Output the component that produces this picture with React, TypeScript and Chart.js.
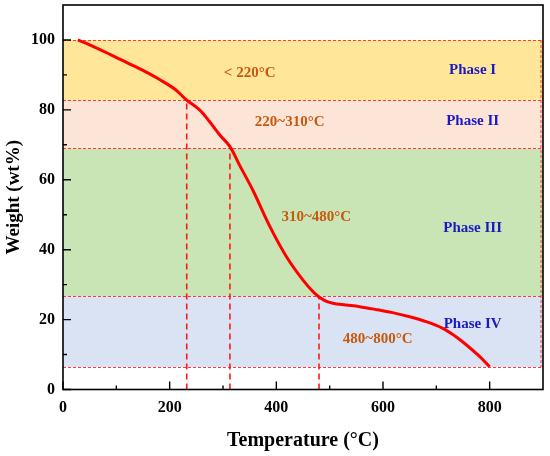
import React, { useEffect, useRef } from "react";
import { Chart, registerables } from "chart.js";

Chart.register(...registerables);

// TGA curve
const temperature = [28, 50, 88, 119, 150, 182, 210, 232, 256, 275, 294, 313, 331, 356, 388, 419, 450, 472, 490, 506, 530, 556, 590, 618, 650, 681, 712, 735, 756, 780, 800];
const weight = [100, 98.6, 95.9, 93.6, 91.3, 88.6, 85.9, 82.8, 80, 76.6, 72.8, 69.5, 64.2, 57, 46.6, 38, 31.3, 27.5, 25.5, 24.7, 24.2, 23.7, 22.8, 22.0, 20.8, 19.4, 17.5, 15.3, 12.8, 9.6, 6.5];

// phase bands (wt% limits, top to bottom)
const bandTop = [100, 82.8, 69, 26.7];
const bandBottom = [82.8, 69, 26.7, 6.4];
const bandColors = ["#FFE699", "#FCE4D6", "#C9E4B5", "#DAE3F3"];

// vertical markers: temperature and the weight where they stop
const markerTemp = [232, 313, 480];
const markerWeight = [82.8, 69, 26.7];

const rangeLabels = ["< 220°C", "220~310°C", "310~480°C", "480~800°C"];
const rangeAt = [[350, 90.6], [425, 76.5], [475, 49.4], [590, 14.5]];
const phaseLabels = ["Phase I", "Phase II", "Phase III", "Phase IV"];
const phaseAt = [[768, 91.4], [768, 76.9], [768, 46.2], [768, 18.7]];

const xTicks = [0, 200, 400, 600, 800];
const xMinor = [100, 300, 500, 700];
const yTicks = [0, 20, 40, 60, 80, 100];
const yMinor = [10, 30, 50, 70, 90];

const SERIF = "'Liberation Serif', 'Times New Roman', serif";

const decor = {
  id: "decor",
  beforeDatasetsDraw(chart: any) {
    const { ctx, chartArea: a, scales } = chart;
    const x = scales.x, y = scales.y;
    ctx.save();
    bandTop.forEach((t, i) => {
      const y0 = y.getPixelForValue(t);
      const y1 = y.getPixelForValue(bandBottom[i]);
      ctx.fillStyle = bandColors[i];
      ctx.fillRect(a.left, y0, a.right - a.left, y1 - y0);
    });
    // thin dashed band edges
    ctx.strokeStyle = "rgba(255,40,40,0.9)";
    ctx.lineWidth = 1;
    ctx.setLineDash([3, 2]);
    const edges = [...bandTop, bandBottom[bandBottom.length - 1]];
    edges.forEach((v) => {
      const py = Math.round(y.getPixelForValue(v)) + 0.5;
      ctx.beginPath();
      ctx.moveTo(a.left, py);
      ctx.lineTo(a.right, py);
      ctx.stroke();
    });
    ctx.beginPath();
    ctx.moveTo(a.right - 2, y.getPixelForValue(100));
    ctx.lineTo(a.right - 2, y.getPixelForValue(6.4));
    ctx.stroke();
    // vertical markers
    ctx.strokeStyle = "#FF1A1A";
    ctx.lineWidth = 1.6;
    ctx.setLineDash([6, 4]);
    markerTemp.forEach((t, i) => {
      const px = x.getPixelForValue(t);
      ctx.beginPath();
      ctx.moveTo(px, a.bottom);
      ctx.lineTo(px, y.getPixelForValue(markerWeight[i]));
      ctx.stroke();
    });
    ctx.setLineDash([]);
    // labels
    ctx.textAlign = "center";
    ctx.textBaseline = "middle";
    ctx.font = `bold 15px ${SERIF}`;
    ctx.fillStyle = "#C55A11";
    rangeLabels.forEach((s, i) => {
      ctx.fillText(s, x.getPixelForValue(rangeAt[i][0]), y.getPixelForValue(rangeAt[i][1]));
    });
    ctx.fillStyle = "#1A1AC4";
    phaseLabels.forEach((s, i) => {
      ctx.fillText(s, x.getPixelForValue(phaseAt[i][0]), y.getPixelForValue(phaseAt[i][1]));
    });
    ctx.restore();
  },
  afterDatasetsDraw(chart: any) {
    const { ctx, chartArea: a, scales } = chart;
    const x = scales.x, y = scales.y;
    ctx.save();
    ctx.strokeStyle = "#000";
    ctx.lineWidth = 1.6;
    ctx.strokeRect(a.left, a.top, a.right - a.left, a.bottom - a.top);
    ctx.lineWidth = 1.4;
    ctx.beginPath();
    xTicks.forEach((v) => {
      const px = x.getPixelForValue(v);
      ctx.moveTo(px, a.bottom);
      ctx.lineTo(px, a.bottom - 8);
    });
    xMinor.forEach((v) => {
      const px = x.getPixelForValue(v);
      ctx.moveTo(px, a.bottom);
      ctx.lineTo(px, a.bottom - 4);
    });
    yTicks.forEach((v) => {
      const py = y.getPixelForValue(v);
      ctx.moveTo(a.left, py);
      ctx.lineTo(a.left + 8, py);
    });
    yMinor.forEach((v) => {
      const py = y.getPixelForValue(v);
      ctx.moveTo(a.left, py);
      ctx.lineTo(a.left + 4, py);
    });
    ctx.stroke();
    ctx.restore();
  },
};

export default function App() {
  const canvasRef = useRef<HTMLCanvasElement>(null);

  useEffect(() => {
    document.body.style.margin = "0";
    if (!canvasRef.current) return;
    const chart = new Chart(canvasRef.current, {
      type: "line",
      data: {
        datasets: [
          {
            data: temperature.map((t, i) => ({ x: t, y: weight[i] })),
            borderColor: "#FF0000",
            borderWidth: 3,
            pointRadius: 0,
            tension: 0.35,
            fill: false,
          },
        ],
      },
      options: {
        animation: false,
        responsive: false,
        maintainAspectRatio: false,
        layout: { padding: { top: 5, right: 7, left: 0, bottom: 0 } },
        plugins: { legend: { display: false }, tooltip: { enabled: false } },
        scales: {
          x: {
            type: "linear",
            min: 0,
            max: 900,
            afterBuildTicks: (s: any) => {
              s.ticks = xTicks.map((v) => ({ value: v }));
            },
            afterFit: (s: any) => {
              s.height = 66.5;
              s.paddingLeft = 0;
              s.paddingRight = 0;
            },
            grid: { display: false, drawTicks: false },
            border: { display: false },
            ticks: { color: "#000", padding: 9, font: { family: SERIF, size: 16, weight: "bold" } },
            title: {
              display: true,
              text: "Temperature (°C)",
              color: "#000",
              padding: { top: 0, bottom: 3 },
              font: { family: SERIF, size: 20, weight: "bold" },
            },
          },
          y: {
            min: 0,
            max: 110,
            afterBuildTicks: (s: any) => {
              s.ticks = yTicks.map((v) => ({ value: v }));
            },
            afterFit: (s: any) => {
              s.width = 63;
              s.paddingTop = 0;
              s.paddingBottom = 0;
            },
            grid: { display: false, drawTicks: false },
            border: { display: false },
            ticks: { color: "#000", padding: 8, font: { family: SERIF, size: 16, weight: "bold" } },
            title: {
              display: true,
              text: "Weight (wt%)",
              color: "#000",
              padding: { top: 3, bottom: 0 },
              font: { family: SERIF, size: 19, weight: "bold" },
            },
          },
        },
      },
      plugins: [decor],
    });
    return () => chart.destroy();
  }, []);

  return (
    <div style={{ width: 550, height: 456, background: "#fff" }}>
      <canvas ref={canvasRef} width={550} height={456} />
    </div>
  );
}
